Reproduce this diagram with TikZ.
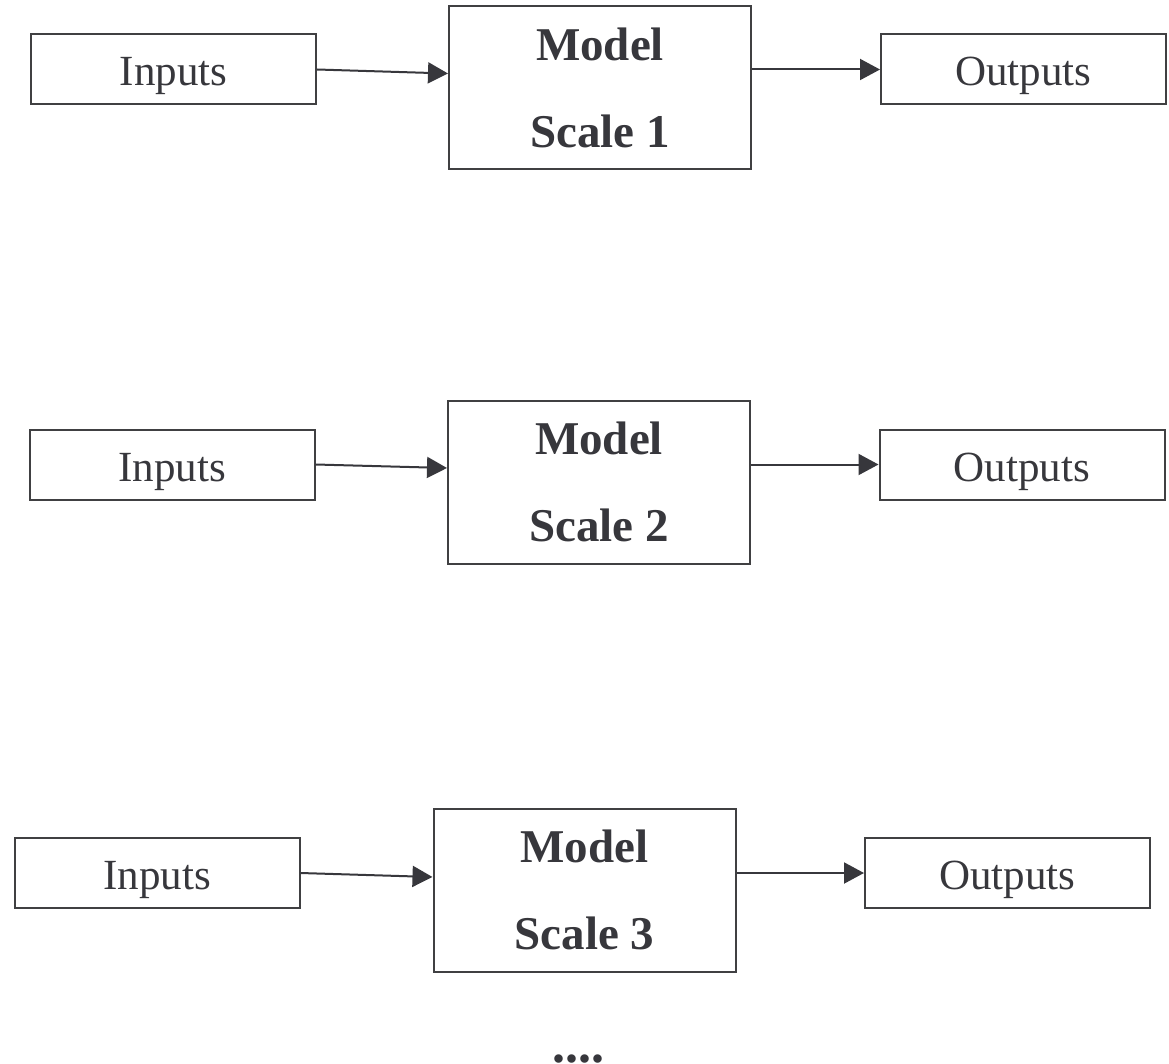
\documentclass[tikz,border=0pt]{standalone}
\usepackage{fontspec}
\setmainfont{Liberation Serif}
\usetikzlibrary{arrows.meta}
\definecolor{ink}{RGB}{55,55,60}
\definecolor{edge}{RGB}{64,64,66}
\begin{document}
\begin{tikzpicture}[x=1pt,y=-1pt,
  iobox/.style={draw=edge, line width=2pt, rectangle, minimum width=285pt, minimum height=70pt,
    inner sep=0pt, text=ink, font=\fontsize{43}{50}\selectfont, text height=33pt, text depth=0pt},
  modelbox/.style={draw=edge, line width=2pt, rectangle, minimum width=302pt, minimum height=163pt,
    inner sep=0pt, text=ink, align=center, font=\bfseries\fontsize{47}{87}\selectfont},
  flow/.style={draw=ink, line width=2pt, -{Triangle[length=20pt,width=21pt]}}]
\useasboundingbox (0,0) rectangle (1169,1064);

% scale 1
\node[iobox]    (in1)  at (173.5,69.5)  {Inputs};
\node[modelbox] (m1)   at (600,88)      {Model\\Scale 1};
\node[iobox]    (out1) at (1023.5,69.5) {Outputs};
\draw[flow] (in1.east) -- ([yshift=14.5pt]m1.west);
\draw[flow] (m1.east |- out1.west) -- (out1.west);

% scale 2
\node[iobox]    (in2)  at (172,464.5)   {Inputs};
\node[modelbox] (m2)   at (599,482)     {Model\\Scale 2};
\node[iobox]    (out2) at (1022,464.5)  {Outputs};
\draw[flow] (in2.east) -- ([yshift=14pt]m2.west);
\draw[flow] (m2.east |- out2.west) -- (out2.west);

% scale 3
\node[iobox]    (in3)  at (157,873)     {Inputs};
\node[modelbox] (m3)   at (584.5,890)   {Model\\Scale 3};
\node[iobox]    (out3) at (1007.5,873)  {Outputs};
\draw[flow] (in3.east) -- ([yshift=13pt]m3.west);
\draw[flow] (m3.east |- out3.west) -- (out3.west);

% continuation mark
\node[anchor=base, text=ink, font=\bfseries\fontsize{52}{60}\selectfont, inner sep=0pt] (more) at (578,1062.5) {....};
\end{tikzpicture}
\end{document}
